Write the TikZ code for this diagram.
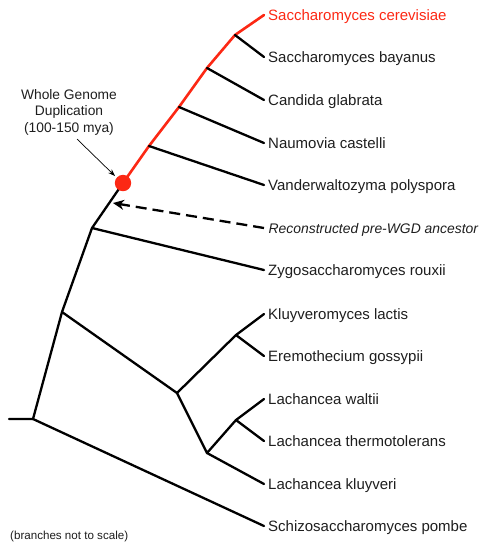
\documentclass[tikz,border=0pt]{standalone}
\usepackage{fontspec}
\setmainfont{Liberation Sans}
\usetikzlibrary{arrows.meta}
\definecolor{wgdred}{RGB}{252,40,20}
\definecolor{txt}{RGB}{30,30,30}
\begin{document}
\begin{tikzpicture}[x=1pt,y=-1pt,
  branch/.style={line width=2.3pt,black,line cap=round,line join=round},
  redbranch/.style={line width=2.6pt,wgdred,line cap=round,line join=round},
  leaf/.style={anchor=base west,inner sep=0pt,text=txt,font=\fontsize{15}{18}\selectfont},
  note/.style={align=center,inner sep=0pt,text=txt,font=\fontsize{13.8}{16.5}\selectfont}]
\useasboundingbox (0,0) rectangle (481,542);
% leaf tips
\foreach \n/\y in {sc/15,sb/57,cg/100,nc/143,vp/185,anc/228,zr/270,kl/314,eg/356,lw/399,lt/441,lk/484,sp/526}{
  \coordinate (t\n) at (264,\y);
}
% labels
\node[leaf,text=wgdred] (lsc) at (268,15+5.5) {Saccharomyces cerevisiae};
\node[leaf] (lsb) at (268,57+5.5) {Saccharomyces bayanus};
\node[leaf] (lcg) at (268,100+5.5) {Candida glabrata};
\node[leaf] (lnc) at (268,143+5.5) {Naumovia castelli};
\node[leaf] (lvp) at (268,185+5.5) {Vanderwaltozyma polyspora};
\node[leaf,font=\fontsize{13.9}{17}\selectfont\itshape] (lanc) at (268.5,228+5.2) {Reconstructed pre-WGD ancestor};
\node[leaf] (lzr) at (268,270+5.5) {Zygosaccharomyces rouxii};
\node[leaf] (lkl) at (268,314+5.5) {Kluyveromyces lactis};
\node[leaf] (leg) at (268,356+5.5) {Eremothecium gossypii};
\node[leaf] (llw) at (268,399+5.5) {Lachancea waltii};
\node[leaf] (llt) at (268,441+5.5) {Lachancea thermotolerans};
\node[leaf] (llk) at (268,484+5.5) {Lachancea kluyveri};
\node[leaf] (lsp) at (268,526+5.5) {Schizosaccharomyces pombe};
% internal nodes
\coordinate (nsb) at (235,35);
\coordinate (ncg) at (207,68);
\coordinate (nnc) at (179,107);
\coordinate (nvp) at (149,146);
\coordinate (wgd) at (123,183);
\coordinate (nzr) at (92,228);
\coordinate (nkk) at (62,312);
\coordinate (root) at (33,419);
\coordinate (stub) at (9,419);
\coordinate (nkle) at (177,393);
\coordinate (nke) at (236,335);
\coordinate (nla) at (207,453);
\coordinate (nwt) at (236,420);
% red WGD lineage
\draw[redbranch] (wgd) -- (nvp) -- (nnc) -- (ncg) -- (nsb) -- (tsc);
% black branches
\draw[branch] (nsb) -- (tsb);
\draw[branch] (ncg) -- (tcg);
\draw[branch] (nnc) -- (tnc);
\draw[branch] (nvp) -- (tvp);
\draw[branch] (wgd) -- (nzr) -- (tzr);
\draw[branch] (nzr) -- (nkk) -- (root) -- (stub);
\draw[branch] (root) -- (tsp);
\draw[branch] (nkk) -- (nkle) -- (nke) -- (tkl);
\draw[branch] (nke) -- (teg);
\draw[branch] (nkle) -- (nla) -- (nwt) -- (tlw);
\draw[branch] (nwt) -- (tlt);
\draw[branch] (nla) -- (tlk);
% WGD dot
\fill[wgdred] (wgd) circle (8.2);
% dashed ancestor arrow
\coordinate (anctip) at (113,203);
\draw[line width=2.3pt,dash pattern=on 11pt off 6pt,-{Stealth[length=11pt,width=10pt]}] (tanc) -- (anctip);
% WGD label
\node[note] (wgdlabel) at (69,112) {Whole Genome\\Duplication\\(100-150 mya)};
\coordinate (wgdarrow) at (115,176);
\draw[line width=0.7pt,-{Stealth[length=7pt,width=5pt]}] (77,139) -- (wgdarrow);
% footnote
\node[anchor=base west,inner sep=0pt,text=txt,font=\fontsize{11.6}{14}\selectfont] (foot) at (10,539) {(branches not to scale)};
\end{tikzpicture}
\end{document}
